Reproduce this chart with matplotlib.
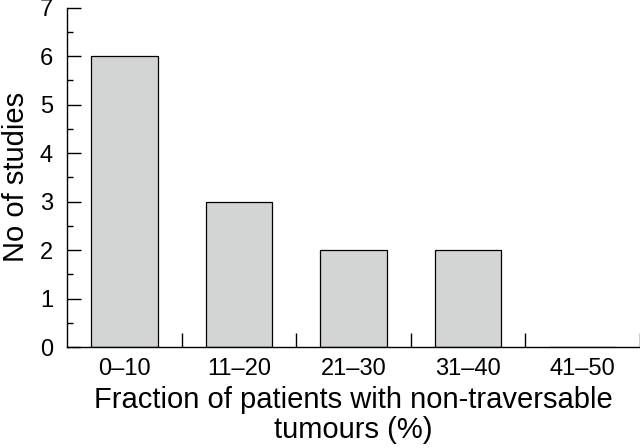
import numpy as np
import matplotlib
matplotlib.use("Agg")
import matplotlib.pyplot as plt
from matplotlib.ticker import MultipleLocator

# dati
categories = ["0\u201310", "11\u201320", "21\u201330", "31\u201340", "41\u201350"]
n_studies = [6, 3, 2, 2, 0]

plt.rcParams['font.family'] = ['Liberation Sans', 'DejaVu Sans']

fig = plt.figure(figsize=(6.4, 4.48), dpi=100)
ax = fig.add_axes([0.1047, 0.2254, 0.8953, 0.7578])

x = np.arange(len(categories))
ax.bar(x, n_studies, width=0.58, color='#d3d5d4', edgecolor='black', linewidth=0.9)

ax.set_xlim(-0.5, 4.5)
ax.set_ylim(0, 7)

# tick sulle x tra le categorie, etichette al centro
ax.set_xticks(x + 0.5)
ax.set_xticklabels([])
ax.set_xticks(x, minor=True)
ax.set_xticklabels(categories, minor=True)
ax.tick_params(axis='x', which='major', direction='in', length=10, width=1)
ax.tick_params(axis='x', which='minor', length=0, pad=8, labelsize=17)

ax.yaxis.set_major_locator(MultipleLocator(1))
ax.yaxis.set_minor_locator(MultipleLocator(0.5))
ax.tick_params(axis='y', which='major', direction='in', length=10, width=1, pad=10, labelsize=17)
ax.tick_params(axis='y', which='minor', direction='in', length=4.5, width=1)

for s in ['top', 'right']:
    ax.spines[s].set_visible(False)
for s in ['left', 'bottom']:
    ax.spines[s].set_linewidth(1)

ax.set_ylabel("No of studies", fontsize=21, labelpad=7)
ax.set_xlabel("Fraction of patients with non-traversable\ntumours (%)", fontsize=21,
              labelpad=4, linespacing=1.1)

plt.savefig("out.png", dpi=100)
